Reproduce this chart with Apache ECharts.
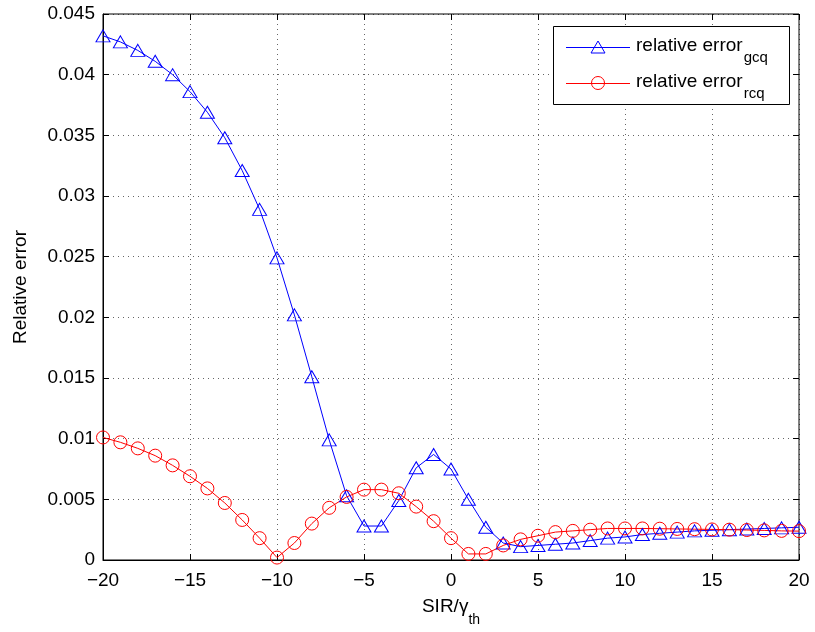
<!DOCTYPE html>
<html>
<head>
<meta charset="utf-8">
<script src="https://cdn.jsdelivr.net/npm/echarts@6/dist/echarts.min.js"></script>
<style>html,body{margin:0;padding:0;background:#fff}#c{width:815px;height:632px}</style>
</head>
<body>
<div id="c"></div>
<script>
const xValues = [-20,-19,-18,-17,-16,-15,-14,-13,-12,-11,-10,-9,-8,-7,-6,-5,-4,-3,-2,-1,0,1,2,3,4,5,6,7,8,9,10,11,12,13,14,15,16,17,18,19,20];
const gcqError = [0.0432,0.0427,0.0420,0.0411,0.0400,0.0386,0.0369,0.0348,0.0321,0.0289,0.0249,0.0202,0.0151,0.0099,0.0053,0.0028,0.0028,0.0049,0.0076,0.0087,0.0075,0.0050,0.0027,0.0014,0.0011,0.0012,0.0013,0.0014,0.0016,0.0018,0.0019,0.0021,0.0022,0.0023,0.0024,0.00245,0.0025,0.00255,0.0026,0.00265,0.0027];
const rcqError = [0.0101,0.0097,0.0092,0.0086,0.0078,0.0069,0.0059,0.0047,0.0033,0.0018,0.0002,0.0014,0.0030,0.0043,0.0052,0.0058,0.0058,0.0055,0.0044,0.0032,0.0018,0.0005,0.0005,0.0012,0.0017,0.0020,0.0023,0.0024,0.0025,0.0026,0.0026,0.0026,0.00258,0.00256,0.00254,0.00252,0.0025,0.00247,0.00244,0.0024,0.00238];
const seriesNames = ['gcq', 'rcq'];
const seriesColors = ['#0000ff', '#ff0000'];
const legendLabel = 'relative error';

const FONT = '"Liberation Sans", Arial, Helvetica, sans-serif';
const chart = echarts.init(document.getElementById('c'), null, {renderer: 'canvas'});
const pairs = arr => xValues.map((x, i) => [x, arr[i]]);
const minus = v => String(v).replace('-', '\u2212');

const gridLine = {show: true, lineStyle: {color: '#000', type: [1, 4], width: 1, opacity: 0.6}};
const tick = {show: true, inside: true, length: 6, lineStyle: {color: '#000'}};
const hiddenAxis = {axisLabel: {show: false}, splitLine: {show: false}, axisLine: {show: false, onZero: false}, axisTick: tick};
const richSub = {a: {fontFamily: FONT, fontSize: 19, color: '#000'}, s: {fontFamily: FONT, fontSize: 15, color: '#000', verticalAlign: 'bottom', padding: [0, 0, -10, 1]}};

// legend box drawn as graphics (rows at y = 47 and 83)
const LX = 553, LY = 26, LW = 236, LH = 78, rowY = [47, 83], lineX0 = 566, lineX1 = 630, mX = 598;
const legendGraphic = [
  {type: 'rect', z: 5, shape: {x: LX + 0.5, y: LY + 0.5, width: LW, height: LH}, style: {fill: '#fff', stroke: '#000', lineWidth: 1}},
  {type: 'line', z: 6, shape: {x1: lineX0, y1: rowY[0] + 0.5, x2: lineX1, y2: rowY[0] + 0.5}, style: {stroke: seriesColors[0], lineWidth: 1}},
  {type: 'polygon', z: 6, shape: {points: [[mX, rowY[0] - 6], [mX - 7, rowY[0] + 6], [mX + 7, rowY[0] + 6]]}, style: {fill: 'none', stroke: seriesColors[0], lineWidth: 1}},
  {type: 'line', z: 6, shape: {x1: lineX0, y1: rowY[1] + 0.5, x2: lineX1, y2: rowY[1] + 0.5}, style: {stroke: seriesColors[1], lineWidth: 1}},
  {type: 'circle', z: 6, shape: {cx: mX, cy: rowY[1], r: 6.5}, style: {fill: 'none', stroke: seriesColors[1], lineWidth: 1}}
].concat(seriesNames.map((n, i) => ({
  type: 'text', z: 6, x: 636, y: rowY[i] - 11,
  style: {text: '{a|' + legendLabel + '}{s|' + n + '}', rich: richSub, verticalAlign: 'top', align: 'left'}
})));

chart.setOption({
  animation: false,
  backgroundColor: '#fff',
  grid: {left: 103, right: 16, top: 14, bottom: 69, show: true, borderColor: '#000', borderWidth: 1, backgroundColor: 'transparent'},
  xAxis: [{
    type: 'value', min: -20, max: 20, interval: 5,
    axisLine: {show: true, onZero: false, lineStyle: {color: '#000', width: 1}},
    axisTick: tick,
    axisLabel: {color: '#000', fontFamily: FONT, fontSize: 19, margin: 11, formatter: minus},
    splitLine: gridLine,
    name: '{a|SIR/γ}{s|th}', nameLocation: 'middle', nameGap: 37,
    nameTextStyle: {rich: {a: {fontFamily: FONT, fontSize: 19, color: '#000'}, s: {fontFamily: FONT, fontSize: 14, color: '#000', verticalAlign: 'bottom', padding: [0, 0, -11, 0]}}}
  }, Object.assign({type: 'value', position: 'top', min: -20, max: 20, interval: 5}, hiddenAxis)],
  yAxis: [{
    type: 'value', min: 0, max: 0.045, interval: 0.005,
    axisLine: {show: true, onZero: false, lineStyle: {color: '#000', width: 1}},
    axisTick: tick,
    axisLabel: {color: '#000', fontFamily: FONT, fontSize: 19, margin: 8, formatter: v => String(+v.toFixed(3))},
    splitLine: gridLine,
    name: 'Relative error', nameLocation: 'middle', nameGap: 73,
    nameTextStyle: {fontFamily: FONT, fontSize: 19, color: '#000'}
  }, Object.assign({type: 'value', position: 'right', min: 0, max: 0.045, interval: 0.005}, hiddenAxis)],
  graphic: legendGraphic,
  series: [
    {name: seriesNames[0], type: 'line', data: pairs(gcqError), symbol: 'triangle', symbolSize: [14, 12],
     lineStyle: {color: seriesColors[0], width: 1}, itemStyle: {color: 'rgba(0,0,0,0)', borderColor: seriesColors[0], borderWidth: 1}},
    {name: seriesNames[1], type: 'line', data: pairs(rcqError), symbol: 'circle', symbolSize: 13,
     lineStyle: {color: seriesColors[1], width: 1}, itemStyle: {color: 'rgba(0,0,0,0)', borderColor: seriesColors[1], borderWidth: 1}}
  ]
});
</script>
</body>
</html>
